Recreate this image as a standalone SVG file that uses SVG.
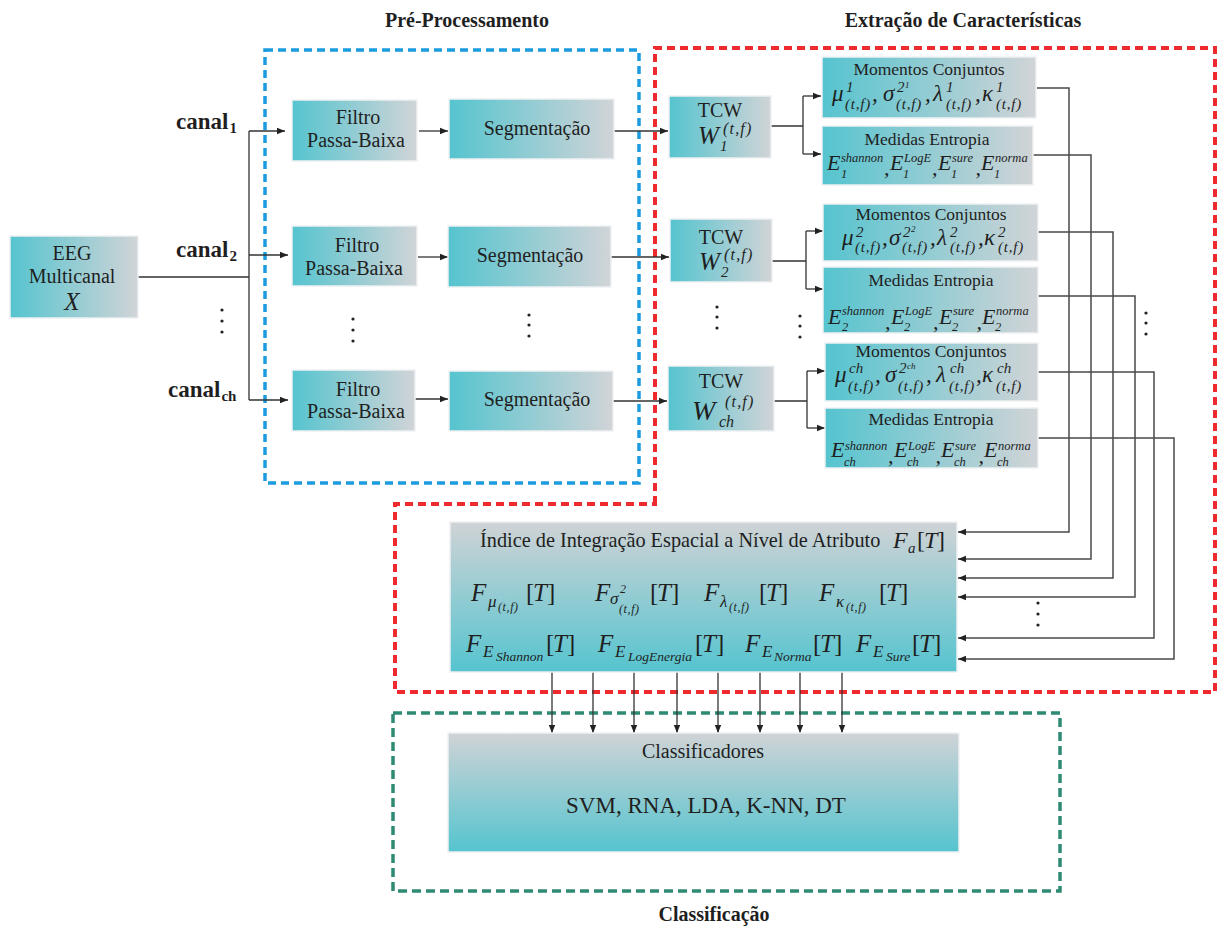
<svg xmlns="http://www.w3.org/2000/svg" width="1217" height="929" viewBox="0 0 1217 929">
<defs>
  <linearGradient id="gH" x1="0" y1="0" x2="1" y2="0">
    <stop offset="0" stop-color="#55c4cf"/>
    <stop offset="1" stop-color="#d1d4d7"/>
  </linearGradient>
  <linearGradient id="gV" x1="0" y1="0" x2="0" y2="1">
    <stop offset="0" stop-color="#d0d3d6"/>
    <stop offset="1" stop-color="#55c4cf"/>
  </linearGradient>
  <marker id="ah" viewBox="0 0 10 10" refX="10" refY="5" markerWidth="8" markerHeight="8" markerUnits="userSpaceOnUse" orient="auto">
    <path d="M0,1 L10,5 L0,9 z" fill="#222"/>
  </marker>
  <style>
    .box{stroke:#eef1f2;stroke-width:1.5}
    .hg{fill:url(#gH)}
    .vg{fill:url(#gV)}
    .tx{font-family:"Liberation Serif","Times New Roman",serif;fill:#1f1f1f}
    .c{text-anchor:middle}
    .f20{font-size:20px}
    .f17{font-size:17.5px}
    .f23{font-size:23px}
    .it{font-style:italic}
    .ttl{font-weight:bold;font-size:20px}
    .cn{font-weight:bold;font-size:23px}
    .cs{font-weight:bold;font-size:15px}
    .m23{font-size:23px}
    .m22{font-size:22px}
    .m25{font-size:25px}
    .s15{font-size:15px}
    .s12{font-size:12.5px}
    .s9{font-size:9px}
    .sc{font-size:15px;letter-spacing:0.8px}
    .tw{font-size:16px;letter-spacing:1.2px}
    .b17{font-size:17px}
    .b12{font-size:12px;letter-spacing:0.6px}
    .b13{font-size:13.5px}
    .up{font-style:normal}
    .ln{fill:none;stroke:#333;stroke-width:1.3}
    .rl{fill:none;stroke:#4a4a4a;stroke-width:1.5}
    .ar{marker-end:url(#ah)}
    .dot{fill:#222}
  </style>
</defs>

<rect width="1217" height="929" fill="#ffffff"/>

<!-- stage frames -->
<g id="frames" fill="none">
  <rect x="265" y="50" width="374" height="433" stroke="#1b9be0" stroke-width="3.5" stroke-dasharray="8 5"/>
  <path d="M655,504 L655,48 L1215,48 L1215,692 L395,692 L395,504 Z" stroke="#ee2a2f" stroke-width="4" stroke-dasharray="8 5"/>
  <rect x="393" y="713" width="667" height="178" stroke="#2f8a74" stroke-width="3.5" stroke-dasharray="9 5"/>
</g>

<!-- stage titles -->
<g id="titles" class="tx ttl c">
  <text x="467" y="27">Pré-Processamento</text>
  <text x="963" y="27">Extração de Características</text>
  <text x="714" y="921">Classificação</text>
</g>

<!-- connectors -->
<g id="connectors">
  <path class="ln" d="M138,277 H249 M249,131 V400"/>
  <path class="ln ar" d="M249,131 H285"/>
  <path class="ln ar" d="M249,255 H288"/>
  <path class="ln ar" d="M249,400 H288"/>

  <path class="ln ar" d="M419,131 H448"/>
  <path class="ln ar" d="M418,257 H448"/>
  <path class="ln ar" d="M415,399 H448"/>

  <path class="ln ar" d="M614,131 H668"/>
  <path class="ln ar" d="M611,257 H669"/>
  <path class="ln ar" d="M613,401 H667"/>

  <path class="ln" d="M771,126 H803 M803,96 V154"/>
  <path class="ln ar" d="M803,96 H821"/>
  <path class="ln ar" d="M803,154 H821"/>
  <path class="ln" d="M772,261 H806 M806,231 V289"/>
  <path class="ln ar" d="M806,231 H823"/>
  <path class="ln ar" d="M806,289 H823"/>
  <path class="ln" d="M774,401 H807 M807,371 V428"/>
  <path class="ln ar" d="M807,371 H825"/>
  <path class="ln ar" d="M807,428 H825"/>

  <path class="rl ar" d="M1037,88 H1069 V532 H958"/>
  <path class="rl ar" d="M1033,155 H1091 V559 H958"/>
  <path class="rl ar" d="M1038,232 H1113 V578 H958"/>
  <path class="rl ar" d="M1038,296 H1135 V597 H958"/>
  <path class="rl ar" d="M1038,372 H1154 V638 H958"/>
  <path class="rl ar" d="M1038,438 H1174 V659 H958"/>

  <path class="ln ar" d="M552,672 V733"/>
  <path class="ln ar" d="M593,672 V733"/>
  <path class="ln ar" d="M634,672 V733"/>
  <path class="ln ar" d="M677,672 V733"/>
  <path class="ln ar" d="M718,672 V733"/>
  <path class="ln ar" d="M760,672 V733"/>
  <path class="ln ar" d="M800,672 V733"/>
  <path class="ln ar" d="M842,672 V733"/>
</g>

<!-- ellipsis marks -->
<g id="ellipses" class="dot">
  <circle cx="222" cy="310" r="1.6"/><circle cx="222" cy="321" r="1.6"/><circle cx="222" cy="332" r="1.6"/>
  <circle cx="353" cy="319" r="1.6"/><circle cx="353" cy="330" r="1.6"/><circle cx="353" cy="341" r="1.6"/>
  <circle cx="529" cy="315" r="1.6"/><circle cx="529" cy="325" r="1.6"/><circle cx="529" cy="336" r="1.6"/>
  <circle cx="717" cy="307" r="1.6"/><circle cx="717" cy="317" r="1.6"/><circle cx="717" cy="328" r="1.6"/>
  <circle cx="800" cy="316" r="1.6"/><circle cx="800" cy="326" r="1.6"/><circle cx="800" cy="337" r="1.6"/>
  <circle cx="1146" cy="313" r="1.6"/><circle cx="1146" cy="323" r="1.6"/><circle cx="1146" cy="334" r="1.6"/>
  <circle cx="1038" cy="603" r="1.6"/><circle cx="1038" cy="614" r="1.6"/><circle cx="1038" cy="625" r="1.6"/>
</g>

<!-- channel labels -->
<g id="channels" class="tx">
  <text class="cn" x="176" y="129">canal<tspan class="cs" dx="1" dy="4">1</tspan></text>
  <text class="cn" x="176" y="257">canal<tspan class="cs" dx="1" dy="4">2</tspan></text>
  <text class="cn" x="168" y="397">canal<tspan class="cs" dx="1" dy="4">ch</tspan></text>
</g>

<g id="eeg">
  <rect class="box hg" x="10" y="236" width="128" height="82"/>
  <text class="tx f20 c" x="72" y="260">EEG</text>
  <text class="tx f20 c" x="72" y="283">Multicanal</text>
  <text class="tx it c" style="font-size:25px" x="72" y="310">X</text>
</g>

<g id="filtro1">
  <rect class="box hg" x="292" y="100" width="125" height="61"/>
  <text class="tx f20 c" x="358" y="124">Filtro</text>
  <text class="tx f20 c" x="356" y="147">Passa-Baixa</text>
</g>
<g id="filtro2">
  <rect class="box hg" x="292" y="226" width="125" height="60"/>
  <text class="tx f20 c" x="357" y="252">Filtro</text>
  <text class="tx f20 c" x="354" y="275">Passa-Baixa</text>
</g>
<g id="filtroch">
  <rect class="box hg" x="292" y="370" width="123" height="61"/>
  <text class="tx f20 c" x="358" y="396">Filtro</text>
  <text class="tx f20 c" x="356" y="418">Passa-Baixa</text>
</g>

<g id="seg1">
  <rect class="box hg" x="449" y="99" width="165" height="60"/>
  <text class="tx f20 c" x="537" y="135">Segmentação</text>
</g>
<g id="seg2">
  <rect class="box hg" x="448" y="226" width="163" height="61"/>
  <text class="tx f20 c" x="530" y="262">Segmentação</text>
</g>
<g id="segch">
  <rect class="box hg" x="449" y="371" width="164" height="60"/>
  <text class="tx f20 c" x="537" y="406">Segmentação</text>
</g>

<g id="tcw1">
  <rect class="box hg" x="669" y="96" width="102" height="62"/>
  <text class="tx f20 c" x="720" y="117">TCW</text>
  <text class="tx it"><tspan style="font-size:25px" x="698" y="144">W</tspan><tspan class="tw" x="723" y="134">(t,f)</tspan><tspan class="s15" x="720" y="151">1</tspan></text>
</g>
<g id="tcw2">
  <rect class="box hg" x="670" y="219" width="102" height="63"/>
  <text class="tx f20 c" x="721" y="244">TCW</text>
  <text class="tx it"><tspan style="font-size:25px" x="699" y="270">W</tspan><tspan class="tw" x="724" y="260">(t,f)</tspan><tspan class="s15" x="721" y="277">2</tspan></text>
</g>
<g id="tcwch">
  <rect class="box hg" x="668" y="366" width="106" height="65"/>
  <text class="tx f20 c" x="721" y="388">TCW</text>
  <text class="tx it"><tspan style="font-size:28px" x="692" y="420">W</tspan><tspan class="tw" x="725" y="407">(t,f)</tspan><tspan style="font-size:16px" x="719" y="427">ch</tspan></text>
</g>

<g id="momentos1">
  <rect class="box hg" x="822" y="57" width="214" height="61"/>
  <text class="tx f17 c" x="929" y="75">Momentos Conjuntos</text>
  <text class="tx it m23"><tspan x="832" y="101">μ</tspan><tspan class="s15" x="846" y="92">1</tspan><tspan class="sc" x="845" y="109">(t,f)</tspan><tspan x="872" y="101">,</tspan><tspan x="883" y="101">σ</tspan><tspan class="s15" x="897" y="92">2</tspan><tspan class="s9" x="905" y="88">1</tspan><tspan class="sc" x="896" y="109">(t,f)</tspan><tspan x="925" y="101">,</tspan><tspan x="933" y="101">λ</tspan><tspan class="s15" x="946" y="92">1</tspan><tspan class="sc" x="946" y="109">(t,f)</tspan><tspan x="975" y="101">,</tspan><tspan x="982" y="101">κ</tspan><tspan class="s15" x="996" y="92">1</tspan><tspan class="sc" x="996" y="109">(t,f)</tspan></text>
</g>
<g id="entropia1">
  <rect class="box hg" x="822" y="126" width="211" height="59"/>
  <text class="tx f17 c" x="927" y="145">Medidas Entropia</text>
  <text class="tx it m22"><tspan x="827" y="170">E</tspan><tspan class="s12" x="841" y="162">shannon</tspan><tspan class="s12" x="841" y="178">1</tspan><tspan x="884" y="175">,</tspan><tspan x="890" y="170">E</tspan><tspan class="s12" x="904" y="162">LogE</tspan><tspan class="s12" x="903" y="178">1</tspan><tspan x="932" y="175">,</tspan><tspan x="938" y="170">E</tspan><tspan class="s12" x="952" y="162">sure</tspan><tspan class="s12" x="951" y="178">1</tspan><tspan x="975.5" y="175">,</tspan><tspan x="981" y="170">E</tspan><tspan class="s12" x="995" y="162">norma</tspan><tspan class="s12" x="994" y="178">1</tspan></text>
</g>

<g id="momentos2">
  <rect class="box hg" x="823" y="204" width="215" height="57"/>
  <text class="tx f17 c" x="931" y="220">Momentos Conjuntos</text>
  <text class="tx it m23"><tspan x="842" y="245">μ</tspan><tspan class="s15" x="856" y="237">2</tspan><tspan class="sc" x="855" y="252">(t,f)</tspan><tspan x="882" y="245">,</tspan><tspan x="889" y="245">σ</tspan><tspan class="s15" x="903" y="237">2</tspan><tspan class="s9" x="911" y="232">2</tspan><tspan class="sc" x="902" y="252">(t,f)</tspan><tspan x="930" y="245">,</tspan><tspan x="937" y="245">λ</tspan><tspan class="s15" x="950" y="237">2</tspan><tspan class="sc" x="950" y="252">(t,f)</tspan><tspan x="978" y="245">,</tspan><tspan x="984" y="245">κ</tspan><tspan class="s15" x="998" y="237">2</tspan><tspan class="sc" x="998" y="252">(t,f)</tspan></text>
</g>
<g id="entropia2">
  <rect class="box hg" x="823" y="267" width="215" height="66"/>
  <text class="tx f17 c" x="931" y="286">Medidas Entropia</text>
  <text class="tx it m22"><tspan x="828" y="324">E</tspan><tspan class="s12" x="842" y="315">shannon</tspan><tspan class="s12" x="842" y="331">2</tspan><tspan x="885" y="329">,</tspan><tspan x="891" y="324">E</tspan><tspan class="s12" x="905" y="315">LogE</tspan><tspan class="s12" x="904" y="331">2</tspan><tspan x="933" y="329">,</tspan><tspan x="939" y="324">E</tspan><tspan class="s12" x="953" y="315">sure</tspan><tspan class="s12" x="952" y="331">2</tspan><tspan x="976.5" y="329">,</tspan><tspan x="982" y="324">E</tspan><tspan class="s12" x="996" y="315">norma</tspan><tspan class="s12" x="995" y="331">2</tspan></text>
</g>

<g id="momentosch">
  <rect class="box hg" x="825" y="343" width="213" height="58"/>
  <text class="tx f17 c" x="931" y="357">Momentos Conjuntos</text>
  <text class="tx it m23"><tspan x="835" y="382">μ</tspan><tspan class="s15" x="849" y="373">ch</tspan><tspan class="sc" x="848" y="391">(t,f)</tspan><tspan x="875" y="382">,</tspan><tspan x="885" y="382">σ</tspan><tspan class="s15" x="899" y="373">2</tspan><tspan class="s9" x="907" y="369">ch</tspan><tspan class="sc" x="898" y="391">(t,f)</tspan><tspan x="926" y="382">,</tspan><tspan x="936" y="382">λ</tspan><tspan class="s15" x="950" y="373">ch</tspan><tspan class="sc" x="949" y="391">(t,f)</tspan><tspan x="976" y="382">,</tspan><tspan x="982" y="382">κ</tspan><tspan class="s15" x="997" y="373">ch</tspan><tspan class="sc" x="996" y="391">(t,f)</tspan></text>
</g>
<g id="entropiach">
  <rect class="box hg" x="825" y="408" width="213" height="60"/>
  <text class="tx f17 c" x="931" y="425">Medidas Entropia</text>
  <text class="tx it m22"><tspan x="831" y="457">E</tspan><tspan class="s12" x="845" y="450">shannon</tspan><tspan class="s12" x="844" y="466">ch</tspan><tspan x="888" y="463">,</tspan><tspan x="894" y="457">E</tspan><tspan class="s12" x="908" y="450">LogE</tspan><tspan class="s12" x="907" y="466">ch</tspan><tspan x="935.5" y="463">,</tspan><tspan x="941" y="457">E</tspan><tspan class="s12" x="955" y="450">sure</tspan><tspan class="s12" x="954" y="466">ch</tspan><tspan x="978.5" y="463">,</tspan><tspan x="984" y="457">E</tspan><tspan class="s12" x="998" y="450">norma</tspan><tspan class="s12" x="997" y="466">ch</tspan></text>
</g>

<g id="integracao">
  <rect class="box vg" x="450" y="522" width="507" height="150"/>
  <text class="tx" style="font-size:20.3px" x="480" y="547">Índice de Integração Espacial a Nível de Atributo</text>
  <text class="tx it" style="font-size:24px"><tspan x="893" y="548">F</tspan><tspan class="s15" x="908" y="553">a</tspan><tspan class="up" x="917" y="548">[</tspan><tspan x="924" y="548">T</tspan><tspan class="up" x="937" y="548">]</tspan></text>

  <text class="tx it m25"><tspan x="471" y="601">F</tspan><tspan class="b17" x="488" y="607">μ</tspan><tspan class="b12" x="498" y="611">(t,f)</tspan><tspan class="up" x="526" y="601">[</tspan><tspan x="533" y="601">T</tspan><tspan class="up" x="547" y="601">]</tspan></text>
  <text class="tx it m25"><tspan x="595" y="601">F</tspan><tspan class="b17" x="610" y="604">σ</tspan><tspan style="font-size:12px" x="620" y="593">2</tspan><tspan class="b12" x="619" y="613">(t,f)</tspan><tspan class="up" x="650" y="601">[</tspan><tspan x="657" y="601">T</tspan><tspan class="up" x="671" y="601">]</tspan></text>
  <text class="tx it m25"><tspan x="704" y="601">F</tspan><tspan class="b17" x="720" y="607">λ</tspan><tspan class="b12" x="729" y="611">(t,f)</tspan><tspan class="up" x="759" y="601">[</tspan><tspan x="766" y="601">T</tspan><tspan class="up" x="780" y="601">]</tspan></text>
  <text class="tx it m25"><tspan x="819" y="601">F</tspan><tspan class="b17" x="836" y="607">κ</tspan><tspan class="b12" x="846" y="611">(t,f)</tspan><tspan class="up" x="879" y="601">[</tspan><tspan x="886" y="601">T</tspan><tspan class="up" x="900" y="601">]</tspan></text>

  <text class="tx it m25"><tspan x="466" y="652">F</tspan><tspan class="b17" x="483" y="657">E</tspan><tspan class="b13" x="496" y="661">Shannon</tspan><tspan class="up" x="546" y="652">[</tspan><tspan x="553" y="652">T</tspan><tspan class="up" x="567" y="652">]</tspan></text>
  <text class="tx it m25"><tspan x="598" y="652">F</tspan><tspan class="b17" x="615" y="657">E</tspan><tspan class="b13" x="628" y="661">LogEnergia</tspan><tspan class="up" x="695" y="652">[</tspan><tspan x="702" y="652">T</tspan><tspan class="up" x="716" y="652">]</tspan></text>
  <text class="tx it m25"><tspan x="745" y="652">F</tspan><tspan class="b17" x="762" y="657">E</tspan><tspan class="b13" x="774" y="661">Norma</tspan><tspan class="up" x="813" y="652">[</tspan><tspan x="820" y="652">T</tspan><tspan class="up" x="834" y="652">]</tspan></text>
  <text class="tx it m25"><tspan x="856" y="652">F</tspan><tspan class="b17" x="873" y="657">E</tspan><tspan class="b13" x="886" y="661">Sure</tspan><tspan class="up" x="912" y="652">[</tspan><tspan x="919" y="652">T</tspan><tspan class="up" x="933" y="652">]</tspan></text>
</g>

<g id="classificadores">
  <rect class="box vg" x="448" y="733" width="511" height="119"/>
  <text class="tx f20 c" x="703" y="758">Classificadores</text>
  <text class="tx f23 c" x="706" y="813">SVM, RNA, LDA, K-NN, DT</text>
</g>
</svg>
